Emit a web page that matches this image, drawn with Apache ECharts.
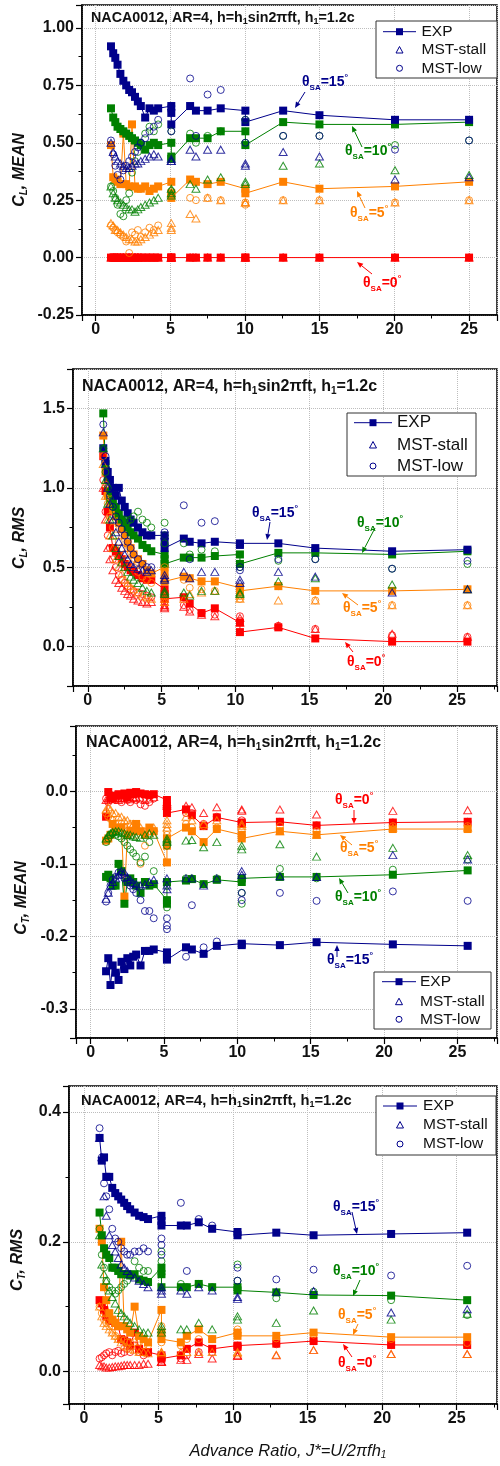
<!DOCTYPE html>
<html><head><meta charset="utf-8">
<script src="https://cdn.jsdelivr.net/npm/echarts@6/dist/echarts.min.js"></script>
<style>html,body{margin:0;padding:0;background:#fff}#c{width:500px;height:1466px}</style>
</head><body><div id="c"></div>
<script>
// Advance ratio J* values as read in panels 2-4
const J = [1.05, 1.2, 1.35, 1.5, 1.7, 1.9, 2.1, 2.3, 2.5, 2.7, 2.9, 3.1, 3.4, 3.7, 4.0, 4.3, 5.2, 5.2, 5.2, 6.5, 6.9, 7.7, 8.6, 10.3, 10.3, 12.9, 15.4, 20.6, 25.7];
// Advance ratio values as read in panel 1 (its x scale sits slightly differently)
const J1 = [1.02, 1.17, 1.31, 1.46, 1.65, 1.85, 2.04, 2.24, 2.43, 2.63, 2.82, 3.02, 3.31, 3.60, 3.89, 4.18, 5.06, 5.06, 5.06, 6.32, 6.71, 7.49, 8.37, 10.02, 10.02, 12.55, 14.98, 20.04, 25.0];
const angles = ['0', '5', '10', '15'];
const legendNames = ['EXP', 'MST-stall', 'MST-low'];
const xTicks = [0, 5, 10, 15, 20, 25];

// ---- Panel 1: C_L, MEAN ----
const clMeanExp0 = [0,0,0,0,0,0,0,0,0,0,0,0,0,0,0,0,0,0,0,0,0,0,0,0,0,0,0,0,0];
const clMeanExp5 = [0.49,0.35,0.34,0.33,0.32,0.54,0.32,0.31,0.58,0.31,0.30,0.30,0.31,0.29,0.30,0.31,0.33,0.28,0.26,0.34,0.33,0.32,0.33,0.30,0.28,0.33,0.30,0.31,0.33];
const clMeanExp10 = [0.65,0.61,0.59,0.57,0.56,0.55,0.54,0.53,0.52,0.51,0.50,0.49,0.47,0.49,0.50,0.49,0.50,0.44,0.43,0.52,0.52,0.52,0.55,0.55,0.49,0.59,0.58,0.58,0.59];
const clMeanExp15 = [0.92,0.89,0.87,0.84,0.80,0.77,0.75,0.73,0.72,0.70,0.68,0.66,0.61,0.65,0.64,0.65,0.66,0.63,0.58,0.66,0.64,0.64,0.65,0.64,0.59,0.64,0.62,0.60,0.60];
const clMeanStall0 = [0,0,0,0,0,0,0,0,0,0,0,0,0,0,0,0,0,0,0,0,0,0,0,0,0,0,0,0,0];
const clMeanStall5 = [0.15,0.14,0.12,0.12,0.11,0.10,0.09,0.08,0.08,0.07,0.07,0.08,0.09,0.10,0.11,0.12,0.15,0.13,0.12,0.19,0.17,0.26,0.25,0.24,0.24,0.25,0.25,0.24,0.25];
const clMeanStall10 = [0.31,0.28,0.26,0.25,0.24,0.23,0.22,0.21,0.21,0.20,0.21,0.22,0.23,0.24,0.25,0.26,0.30,0.28,0.27,0.32,0.30,0.34,0.35,0.33,0.32,0.40,0.41,0.38,0.36];
const clMeanStall15 = [0.50,0.46,0.44,0.42,0.41,0.40,0.39,0.39,0.40,0.41,0.41,0.42,0.43,0.44,0.45,0.44,0.43,0.42,0.42,0.47,0.44,0.47,0.47,0.41,0.40,0.46,0.44,0.34,0.35];
const clMeanLow0 = [0,0,0,0,0,0,0,0,0,0,0,0,0,0,0,0,0,0,0,0,0,0,0,0,0,0,0,0,0];
const clMeanLow5 = [0.14,0.13,0.12,0.11,0.10,0.09,0.07,0.02,0.11,0.10,0.12,0.09,0.11,0.13,0.12,0.14,0.28,0.26,0.27,0.26,0.25,0.26,0.25,0.24,0.23,0.25,0.25,0.24,0.25];
const clMeanLow10 = [0.31,0.29,0.26,0.23,0.19,0.18,0.25,0.28,0.37,0.42,0.46,0.50,0.54,0.57,0.55,0.58,0.55,0.50,0.29,0.54,0.50,0.53,0.55,0.60,0.50,0.53,0.53,0.49,0.51];
const clMeanLow15 = [0.51,0.45,0.40,0.36,0.34,0.38,0.40,0.42,0.44,0.46,0.48,0.50,0.52,0.55,0.57,0.60,0.66,0.64,0.55,0.78,0.53,0.71,0.73,0.60,0.50,0.53,0.53,0.47,0.51];

// ---- Panel 2: C_L, RMS ----
const clRmsExp0 = [1.20,0.98,0.85,0.75,0.62,0.60,0.57,0.55,0.52,0.50,0.48,0.47,0.45,0.43,0.42,0.42,0.36,0.33,0.30,0.31,0.27,0.21,0.24,0.15,0.09,0.12,0.05,0.03,0.03];
const clRmsExp5 = [1.33,1.10,0.95,0.90,0.86,0.82,0.78,0.74,0.70,0.65,0.62,0.58,0.55,0.52,0.48,0.46,0.50,0.45,0.41,0.44,0.43,0.41,0.41,0.37,0.35,0.38,0.35,0.35,0.36];
const clRmsExp10 = [1.47,1.15,1.05,0.98,0.92,0.88,0.84,0.80,0.78,0.75,0.72,0.70,0.68,0.64,0.62,0.60,0.58,0.55,0.52,0.56,0.56,0.56,0.57,0.58,0.52,0.59,0.59,0.58,0.60];
const clRmsExp15 = [1.25,1.17,1.10,1.05,1.00,0.95,1.00,0.92,0.88,0.84,0.80,0.78,0.75,0.72,0.70,0.70,0.70,0.66,0.62,0.68,0.66,0.65,0.66,0.65,0.64,0.65,0.62,0.60,0.61];
const clRmsStall0 = [1.00,0.80,0.62,0.55,0.48,0.42,0.40,0.37,0.35,0.33,0.32,0.30,0.29,0.28,0.27,0.28,0.26,0.25,0.24,0.25,0.22,0.20,0.19,0.18,0.15,0.13,0.11,0.08,0.06];
const clRmsStall5 = [1.15,0.95,0.80,0.70,0.62,0.55,0.50,0.46,0.42,0.40,0.38,0.36,0.34,0.32,0.31,0.30,0.28,0.30,0.32,0.30,0.33,0.34,0.35,0.30,0.32,0.29,0.29,0.26,0.26];
const clRmsStall10 = [1.25,1.05,0.90,0.80,0.70,0.62,0.57,0.53,0.50,0.47,0.44,0.42,0.40,0.37,0.35,0.34,0.35,0.34,0.33,0.34,0.32,0.35,0.35,0.33,0.34,0.41,0.43,0.39,0.36];
const clRmsStall15 = [1.35,1.15,1.00,0.90,0.80,0.72,0.66,0.62,0.58,0.55,0.52,0.50,0.49,0.48,0.47,0.48,0.45,0.43,0.42,0.47,0.43,0.47,0.47,0.42,0.40,0.47,0.44,0.34,0.36];
const clRmsLow0 = [1.05,0.85,0.70,0.62,0.55,0.50,0.45,0.42,0.40,0.38,0.36,0.35,0.34,0.33,0.32,0.31,0.30,0.28,0.26,0.26,0.23,0.21,0.20,0.19,0.16,0.13,0.11,0.07,0.06];
const clRmsLow5 = [1.20,1.02,0.90,0.82,0.75,0.70,0.66,0.62,0.58,0.55,0.52,0.50,0.47,0.44,0.42,0.40,0.50,0.48,0.45,0.42,0.37,0.36,0.35,0.32,0.30,0.38,0.29,0.26,0.26];
const clRmsLow10 = [1.25,1.10,1.00,0.93,0.88,0.85,0.82,0.80,0.80,0.79,0.80,0.82,0.85,0.80,0.78,0.75,0.78,0.70,0.65,0.65,0.58,0.61,0.60,0.52,0.50,0.54,0.55,0.49,0.52];
const clRmsLow15 = [1.40,1.20,1.05,0.95,0.88,0.82,0.78,0.74,0.70,0.66,0.62,0.58,0.55,0.52,0.50,0.50,0.72,0.70,0.68,0.89,0.55,0.78,0.79,0.50,0.48,0.55,0.55,0.49,0.54];

// ---- Panel 3: C_T, MEAN ----
const ctMeanExp0 = [-0.035,-0.001,-0.008,-0.010,-0.006,-0.004,-0.005,-0.003,-0.008,-0.002,-0.004,-0.001,-0.003,-0.004,-0.005,-0.004,-0.012,-0.020,-0.030,-0.025,-0.033,-0.048,-0.036,-0.043,-0.045,-0.042,-0.047,-0.043,-0.042];
const ctMeanExp5 = [-0.068,-0.065,-0.060,-0.045,-0.055,-0.050,-0.050,-0.145,-0.060,-0.055,-0.055,-0.045,-0.055,-0.060,-0.050,-0.055,-0.098,-0.075,-0.065,-0.050,-0.055,-0.070,-0.052,-0.060,-0.065,-0.055,-0.060,-0.052,-0.052];
const ctMeanExp10 = [-0.118,-0.115,-0.120,-0.130,-0.130,-0.100,-0.110,-0.155,-0.125,-0.120,-0.125,-0.130,-0.140,-0.125,-0.130,-0.128,-0.150,-0.155,-0.125,-0.123,-0.121,-0.128,-0.122,-0.125,-0.120,-0.118,-0.118,-0.115,-0.109];
const ctMeanExp15 = [-0.248,-0.230,-0.267,-0.240,-0.250,-0.260,-0.235,-0.245,-0.230,-0.240,-0.228,-0.225,-0.240,-0.220,-0.220,-0.218,-0.222,-0.228,-0.232,-0.215,-0.218,-0.224,-0.213,-0.210,-0.212,-0.212,-0.208,-0.211,-0.213];
const ctMeanStall0 = [-0.012,-0.010,-0.009,-0.008,-0.010,-0.012,-0.009,-0.010,-0.008,-0.011,-0.009,-0.008,-0.010,-0.012,-0.010,-0.008,-0.015,-0.018,-0.020,-0.020,-0.022,-0.030,-0.022,-0.025,-0.027,-0.025,-0.032,-0.027,-0.026];
const ctMeanStall5 = [-0.025,-0.022,-0.025,-0.030,-0.030,-0.035,-0.035,-0.040,-0.040,-0.045,-0.045,-0.050,-0.050,-0.055,-0.055,-0.050,-0.040,-0.045,-0.050,-0.035,-0.040,-0.045,-0.040,-0.045,-0.048,-0.055,-0.060,-0.050,-0.050];
const ctMeanStall10 = [-0.065,-0.060,-0.058,-0.056,-0.055,-0.055,-0.057,-0.058,-0.060,-0.060,-0.062,-0.063,-0.064,-0.060,-0.058,-0.060,-0.065,-0.070,-0.068,-0.068,-0.067,-0.077,-0.070,-0.080,-0.075,-0.073,-0.090,-0.078,-0.088];
const ctMeanStall15 = [-0.148,-0.140,-0.130,-0.125,-0.120,-0.115,-0.110,-0.112,-0.118,-0.122,-0.126,-0.128,-0.130,-0.128,-0.125,-0.122,-0.120,-0.130,-0.135,-0.120,-0.120,-0.130,-0.120,-0.110,-0.115,-0.117,-0.118,-0.088,-0.094];
const ctMeanLow0 = [-0.010,-0.015,-0.012,-0.010,-0.012,-0.010,-0.015,-0.010,-0.012,-0.015,-0.010,-0.012,-0.018,-0.020,-0.015,-0.010,-0.018,-0.025,-0.030,-0.030,-0.030,-0.045,-0.035,-0.040,-0.045,-0.042,-0.047,-0.043,-0.042];
const ctMeanLow5 = [-0.030,-0.035,-0.038,-0.040,-0.045,-0.050,-0.045,-0.050,-0.055,-0.045,-0.050,-0.060,-0.100,-0.075,-0.060,-0.055,-0.070,-0.060,-0.055,-0.045,-0.050,-0.048,-0.050,-0.055,-0.060,-0.048,-0.055,-0.048,-0.048];
const ctMeanLow10 = [-0.070,-0.065,-0.060,-0.058,-0.060,-0.062,-0.065,-0.070,-0.075,-0.080,-0.085,-0.090,-0.098,-0.090,-0.070,-0.110,-0.160,-0.130,-0.075,-0.120,-0.120,-0.128,-0.120,-0.155,-0.140,-0.107,-0.120,-0.108,-0.094];
const ctMeanLow15 = [-0.152,-0.140,-0.130,-0.122,-0.118,-0.112,-0.115,-0.120,-0.125,-0.130,-0.135,-0.140,-0.150,-0.165,-0.165,-0.175,-0.185,-0.190,-0.175,-0.228,-0.157,-0.215,-0.207,-0.140,-0.150,-0.140,-0.151,-0.138,-0.151];

// ---- Panel 4: C_T, RMS ----
const ctRmsExp0 = [0.110,0.105,0.095,0.085,0.080,0.078,0.075,0.070,0.050,0.048,0.045,0.040,0.060,0.035,0.030,0.030,0.025,0.022,0.020,0.025,0.035,0.045,0.035,0.040,0.038,0.043,0.047,0.041,0.041];
const ctRmsExp5 = [0.220,0.200,0.130,0.110,0.090,0.080,0.075,0.070,0.200,0.070,0.065,0.060,0.100,0.055,0.050,0.045,0.095,0.060,0.050,0.045,0.055,0.065,0.050,0.060,0.055,0.055,0.060,0.053,0.053];
const ctRmsExp10 = [0.245,0.210,0.190,0.180,0.175,0.160,0.160,0.155,0.150,0.150,0.150,0.148,0.150,0.142,0.140,0.138,0.160,0.150,0.130,0.130,0.130,0.135,0.130,0.130,0.125,0.122,0.118,0.117,0.110];
const ctRmsExp15 = [0.360,0.325,0.330,0.300,0.300,0.283,0.275,0.270,0.265,0.260,0.255,0.250,0.245,0.240,0.238,0.235,0.240,0.232,0.225,0.225,0.225,0.230,0.220,0.215,0.210,0.214,0.210,0.212,0.214];
const ctRmsStall0 = [0.010,0.008,0.008,0.006,0.006,0.007,0.008,0.008,0.009,0.010,0.010,0.010,0.010,0.010,0.012,0.012,0.015,0.015,0.015,0.018,0.018,0.027,0.020,0.025,0.024,0.025,0.033,0.027,0.027];
const ctRmsStall5 = [0.100,0.085,0.075,0.070,0.065,0.060,0.055,0.050,0.045,0.040,0.038,0.035,0.033,0.030,0.030,0.028,0.030,0.030,0.028,0.030,0.030,0.030,0.030,0.030,0.028,0.026,0.033,0.027,0.027];
const ctRmsStall10 = [0.210,0.165,0.150,0.140,0.125,0.115,0.105,0.095,0.090,0.085,0.080,0.075,0.070,0.065,0.060,0.060,0.070,0.065,0.060,0.065,0.065,0.075,0.065,0.085,0.080,0.075,0.094,0.080,0.089];
const ctRmsStall15 = [0.360,0.330,0.270,0.240,0.210,0.195,0.185,0.175,0.165,0.160,0.155,0.150,0.145,0.140,0.135,0.130,0.130,0.125,0.120,0.125,0.120,0.130,0.125,0.115,0.112,0.123,0.124,0.091,0.096];
const ctRmsLow0 = [0.020,0.022,0.025,0.028,0.030,0.025,0.030,0.032,0.028,0.030,0.035,0.030,0.040,0.030,0.025,0.028,0.020,0.025,0.018,0.020,0.025,0.030,0.030,0.040,0.038,0.042,0.047,0.041,0.041];
const ctRmsLow5 = [0.100,0.090,0.080,0.075,0.070,0.060,0.055,0.050,0.050,0.048,0.045,0.045,0.045,0.045,0.040,0.040,0.070,0.055,0.045,0.040,0.050,0.050,0.050,0.065,0.060,0.051,0.057,0.050,0.044];
const ctRmsLow10 = [0.220,0.180,0.160,0.140,0.130,0.125,0.120,0.125,0.130,0.135,0.140,0.150,0.170,0.160,0.155,0.155,0.185,0.170,0.150,0.135,0.130,0.135,0.130,0.165,0.140,0.113,0.123,0.110,0.087];
const ctRmsLow15 = [0.375,0.330,0.290,0.270,0.250,0.220,0.205,0.200,0.190,0.185,0.180,0.180,0.185,0.185,0.190,0.185,0.205,0.195,0.180,0.260,0.155,0.235,0.225,0.160,0.140,0.142,0.157,0.148,0.163];

// ---------------- styling / layout ----------------
const FONT = 'Arial, "Liberation Sans", Helvetica, sans-serif';
const COLORS = ['#FF0000', '#FF8000', '#008000', '#00008B'];
const NAVY = '#00008B';

const panelData = [
  {x:J1, exp:[clMeanExp0,clMeanExp5,clMeanExp10,clMeanExp15], stall:[clMeanStall0,clMeanStall5,clMeanStall10,clMeanStall15], low:[clMeanLow0,clMeanLow5,clMeanLow10,clMeanLow15]},
  {x:J, exp:[clRmsExp0,clRmsExp5,clRmsExp10,clRmsExp15], stall:[clRmsStall0,clRmsStall5,clRmsStall10,clRmsStall15], low:[clRmsLow0,clRmsLow5,clRmsLow10,clRmsLow15]},
  {x:J, exp:[ctMeanExp0,ctMeanExp5,ctMeanExp10,ctMeanExp15], stall:[ctMeanStall0,ctMeanStall5,ctMeanStall10,ctMeanStall15], low:[ctMeanLow0,ctMeanLow5,ctMeanLow10,ctMeanLow15]},
  {x:J, exp:[ctRmsExp0,ctRmsExp5,ctRmsExp10,ctRmsExp15], stall:[ctRmsStall0,ctRmsStall5,ctRmsStall10,ctRmsStall15], low:[ctRmsLow0,ctRmsLow5,ctRmsLow10,ctRmsLow15]}
];

const panels = [
  {grid:{left:82, top:5, width:416, height:310}, xmin:-0.92, xmax:26.87, ymin:-0.25, ymax:1.1, step:0.25, dec:2, yname:['L','MEAN'], ynameXY:[20,170],
   title:{x:91, y:18, fs:14.3}, legend:{box:[376,21,497,78], rows:[31.7,50,68.3], line:[383,416], sym:399.5, tx:421.5, fs:15.5},
   ann:[{a:3,t:[302,82],ar:[305,92,295,108]},{a:2,t:[345,151],ar:[362,147,352,126]},{a:1,t:[350,213],ar:[365,208,357,191]},{a:0,t:[363,283],ar:[372,274,357,262]}]},
  {grid:{left:73, top:369, width:424, height:317}, xmin:-1, xmax:27.7, ymin:-0.25, ymax:1.75, step:0.5, dec:1, yname:['L','RMS'], ynameXY:[20,538],
   title:{x:82, y:387, fs:16}, legend:{box:[347,413,476,476], rows:[422.7,445,466], line:[354,392], sym:373, tx:397, fs:17},
   ann:[{a:3,t:[252,513],ar:[270,522,267,540]},{a:2,t:[357,523],ar:[375,528,362,553]},{a:1,t:[343,608],ar:[358,605,342,593]},{a:0,t:[347,662],ar:[353,652,345,642]}]},
  {grid:{left:76, top:726, width:422, height:312}, xmin:-1, xmax:27.7, ymin:-0.34, ymax:0.09, step:0.1, dec:1, yname:['T','MEAN'], ynameXY:[22,898],
   title:{x:86, y:743, fs:16}, legend:{box:[374,972,491,1029], rows:[981.7,1001.7,1019.3], line:[382,416], sym:399, tx:420, fs:15.5},
   ann:[{a:0,t:[335,800],ar:[354,810,354,824]},{a:1,t:[340,848],ar:[352,845,340,835]},{a:2,t:[335,897],ar:[348,893,339,878]},{a:3,t:[327,960],ar:[337,957,337,945]}]},
  {grid:{left:69, top:1086, width:430, height:318}, xmin:-1, xmax:27.7, ymin:-0.05, ymax:0.44, step:0.2, dec:1, yname:['T','RMS'], ynameXY:[18,1260],
   title:{x:81, y:1101, fs:14.7}, legend:{box:[376,1096,496,1155], rows:[1106,1125,1144], line:[383,417], sym:400, tx:423, fs:15.5},
   ann:[{a:3,t:[333,1207],ar:[352,1212,357,1234]},{a:2,t:[333,1271],ar:[360,1280,353,1296]},{a:1,t:[338,1315],ar:[358,1324,353,1335]},{a:0,t:[338,1363],ar:[352,1357,343,1344]}]}
];

function isMult(v, s){ return Math.abs(v/s - Math.round(v/s)) < 1e-6; }

const grids = [], xAxes = [], yAxes = [], series = [], elements = [];
panels.forEach((p, i) => {
  grids.push(Object.assign({show:true, borderColor:'#000', borderWidth:1.5, backgroundColor:'rgba(0,0,0,0)', containLabel:false}, p.grid));
  const common = {
    gridIndex:i, type:'value',
    axisLine:{show:true, onZero:false, lineStyle:{color:'#000', width:1.5}},
    axisTick:{show:true, inside:false, length:6, lineStyle:{color:'#000', width:1.2}},
    minorTick:{show:true, splitNumber:2, length:3.5, lineStyle:{color:'#000', width:1}},
    splitLine:{show:true, lineStyle:{color:'#bdbdbd', type:'dotted', width:1}},
    minorSplitLine:{show:false}
  };
  xAxes.push(Object.assign({}, common, {
    min:p.xmin, max:p.xmax, minInterval:5, maxInterval:5, splitNumber:5,
    axisLabel:{show:true, margin:7, fontSize:16, fontWeight:'bold', color:'#111', fontFamily:FONT, showMinLabel:true, showMaxLabel:true, hideOverlap:false,
      formatter:v => (isMult(v,5) && v >= 0 && v <= 25) ? String(Math.round(v)) : ''}
  }));
  yAxes.push(Object.assign({}, common, {
    min:p.ymin, max:p.ymax, minInterval:p.step, maxInterval:p.step, splitNumber:5,
    axisLabel:{show:true, margin:8, fontSize:16, fontWeight:'bold', color:'#111', fontFamily:FONT, showMinLabel:true, showMaxLabel:true, hideOverlap:false,
      formatter:v => isMult(v,p.step) ? v.toFixed(p.dec) : ''}
  }));
  const d = panelData[i];
  const xs = d.x;
  for (let a = 0; a < 4; a++) {
    const c = COLORS[a];
    series.push({type:'line', xAxisIndex:i, yAxisIndex:i, data:xs.map((x,k)=>[x, d.exp[a][k]]),
      symbol:'rect', symbolSize:8, showAllSymbol:true, lineStyle:{color:c, width:1}, itemStyle:{color:c}, z:3});
  }
  for (let a = 0; a < 4; a++) {
    const c = COLORS[a];
    series.push({type:'scatter', xAxisIndex:i, yAxisIndex:i, data:xs.map((x,k)=>[x, d.stall[a][k]]),
      symbol:'triangle', symbolSize:[8,7], itemStyle:{color:'rgba(0,0,0,0)', borderColor:c, borderWidth:1}, z:4});
    series.push({type:'scatter', xAxisIndex:i, yAxisIndex:i, data:xs.map((x,k)=>[x, d.low[a][k]]),
      symbol:'circle', symbolSize:7, itemStyle:{color:'rgba(0,0,0,0)', borderColor:c, borderWidth:1}, z:4});
  }

  // panel title
  const tf = p.title.fs, tsub = Math.round(tf*0.62);
  elements.push({type:'text', x:p.title.x, y:p.title.y, z:50, style:{
    text:'{b|NACA0012, AR=4, h=h}{s|1}{b|sin2πft, h}{s|1}{b|=1.2c}', align:'left', verticalAlign:'middle',
    rich:{b:{fontSize:tf, fontWeight:'bold', fontFamily:FONT, fill:'#111'}, s:{fontSize:tsub, fontWeight:'bold', fontFamily:FONT, fill:'#111', padding:[8,0,0,0]}}}});
  // y axis name
  elements.push({type:'text', x:p.ynameXY[0], y:p.ynameXY[1], rotation:Math.PI/2, z:50, style:{
    text:'{i|C}{s|' + p.yname[0] + '}{i|, ' + p.yname[1] + '}', align:'center', verticalAlign:'middle',
    rich:{i:{fontSize:16, fontWeight:'bold', fontStyle:'italic', fontFamily:FONT, fill:'#111'}, s:{fontSize:10, fontWeight:'bold', fontStyle:'italic', fontFamily:FONT, fill:'#111', padding:[8,0,0,0]}}}});
  // legend
  const L = p.legend;
  elements.push({type:'rect', z:40, shape:{x:L.box[0], y:L.box[1], width:L.box[2]-L.box[0], height:L.box[3]-L.box[1]}, style:{fill:'#fff', stroke:'#333', lineWidth:1}});
  elements.push({type:'line', z:41, shape:{x1:L.line[0], y1:L.rows[0], x2:L.line[1], y2:L.rows[0]}, style:{stroke:NAVY, lineWidth:1}});
  elements.push({type:'rect', z:42, shape:{x:L.sym-3.5, y:L.rows[0]-3.5, width:7, height:7}, style:{fill:NAVY}});
  elements.push({type:'polygon', z:42, shape:{points:[[L.sym, L.rows[1]-3.5],[L.sym-3.5, L.rows[1]+3],[L.sym+3.5, L.rows[1]+3]]}, style:{fill:'none', stroke:NAVY, lineWidth:1}});
  elements.push({type:'circle', z:42, shape:{cx:L.sym, cy:L.rows[2], r:3}, style:{fill:'none', stroke:NAVY, lineWidth:1}});
  legendNames.forEach((nm, k) => {
    elements.push({type:'text', z:42, x:L.tx, y:L.rows[k], style:{text:nm, fontSize:L.fs, fontFamily:FONT, fill:'#111', align:'left', verticalAlign:'middle'}});
  });
  // angle annotations
  p.ann.forEach(an => {
    const c = COLORS[an.a];
    elements.push({type:'text', z:45, x:an.t[0], y:an.t[1], style:{
      text:'{t|θ}{s|SA}{t|=' + angles[an.a] + '}{u|°}', align:'left', verticalAlign:'middle',
      rich:{t:{fontSize:14, fontWeight:'bold', fontFamily:FONT, fill:c}, s:{fontSize:8, fontWeight:'bold', fontFamily:FONT, fill:c, padding:[11,0,0,0]}, u:{fontSize:9, fontWeight:'bold', fontFamily:FONT, fill:c, padding:[0,0,9,0]}}}});
    const [x1,y1,x2,y2] = an.ar;
    const ang = Math.atan2(y2-y1, x2-x1), hl = 6, hw = 2.6;
    const bx = x2 - hl*Math.cos(ang), by = y2 - hl*Math.sin(ang);
    const px = -Math.sin(ang)*hw, py = Math.cos(ang)*hw;
    elements.push({type:'line', z:45, shape:{x1:x1, y1:y1, x2:bx, y2:by}, style:{stroke:c, lineWidth:1}});
    elements.push({type:'polygon', z:45, shape:{points:[[x2,y2],[bx+px,by+py],[bx-px,by-py]]}, style:{fill:c}});
  });
});

// bottom x-axis title
elements.push({type:'text', z:50, x:288, y:1451, style:{
  text:'{i|Advance Ratio, J*=U/2πfh}{s|1}', align:'center', verticalAlign:'middle',
  rich:{i:{fontSize:16.5, fontStyle:'italic', fontFamily:FONT, fill:'#111'}, s:{fontSize:10, fontStyle:'italic', fontFamily:FONT, fill:'#111', padding:[9,0,0,0]}}}});

const chart = echarts.init(document.getElementById('c'), null, {renderer:'canvas', width:500, height:1466});
chart.setOption({
  animation:false,
  backgroundColor:'#fff',
  grid:grids, xAxis:xAxes, yAxis:yAxes, series:series,
  graphic:{elements:elements}
});
</script>
</body></html>
